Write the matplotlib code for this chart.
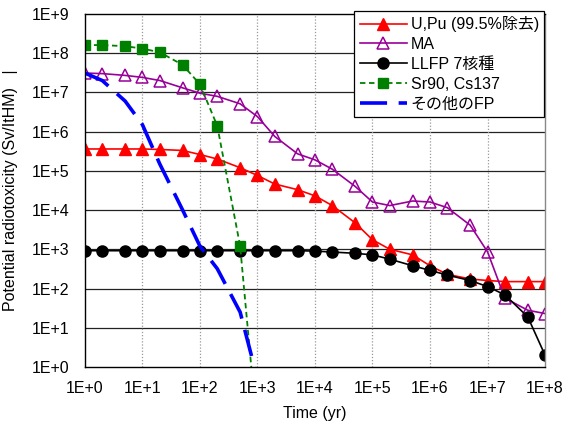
import numpy as np
import matplotlib
matplotlib.use('Agg')
import matplotlib.pyplot as plt

plt.rcParams['font.family'] = ['Liberation Sans', 'Noto Sans CJK JP']

# time points (yr)
years = [1, 2, 5, 1e1, 2e1, 5e1, 1e2, 2e2, 5e2, 1e3, 2e3, 5e3, 1e4, 2e4, 5e4,
         1e5, 2e5, 5e5, 1e6, 2e6, 5e6, 1e7, 2e7, 5e7, 1e8]

u_pu = [3.6e5, 3.6e5, 3.6e5, 3.6e5, 3.5e5, 3.3e5, 2.6e5, 2.0e5, 1.2e5, 7.6e4,
        4.6e4, 3.3e4, 2.3e4, 1.3e4, 4.7e3, 1.75e3, 1.0e3, 7.2e2, 3.8e2, 2.3e2,
        1.75e2, 1.6e2, 1.5e2, 1.5e2, 1.5e2]
ma = [3.1e7, 3.0e7, 2.7e7, 2.4e7, 2.0e7, 1.3e7, 9.5e6, 7.9e6, 5.1e6, 2.4e6,
      7.5e5, 2.7e5, 1.9e5, 1.1e5, 4.0e4, 1.6e4, 1.3e4, 1.7e4, 1.6e4, 1.15e4,
      4.1e3, 8.6e2, 57, 28, 23]
llfp = [9.2e2, 9.2e2, 9.2e2, 9.2e2, 9.2e2, 9.2e2, 9.2e2, 9.2e2, 9.2e2, 9.2e2,
        9.2e2, 9.2e2, 9.0e2, 8.5e2, 7.9e2, 7.2e2, 5.6e2, 3.8e2, 2.9e2, 2.2e2,
        1.6e2, 1.12e2, 69, 19, 2.0]

years_short = [1, 2, 5, 1e1, 2e1, 5e1, 1e2, 2e2, 5e2, 1e3]
sr_cs = [1.6e8, 1.6e8, 1.5e8, 1.3e8, 1.05e8, 5.0e7, 1.6e7, 1.4e6, 1.2e3, 0.02]
other_fp = [3.1e7, 2.0e7, 6.0e6, 1.5e6, 1.5e5, 1.0e4, 1.2e3, 3.2e2, 25, 0.5]

labels = ['U,Pu (99.5%除去)', 'MA', 'LLFP 7核種', 'Sr90, Cs137', 'その他のFP']

FS = 11.5

fig = plt.figure(figsize=(5.66, 4.26), dpi=100)
ax = fig.add_axes([0.150, 0.1385, 0.813, 0.829])

ax.plot(years, u_pu, color='#FF0000', lw=1.2, marker='^', ms=8,
        label=labels[0])
ax.plot(years, ma, color='#990099', lw=1.2, marker='^', ms=8,
        mfc='none', mec='#990099', mew=1.1, label=labels[1])
ax.plot(years, llfp, color='black', lw=1.2, marker='o', ms=8,
        label=labels[2])
ax.plot(years_short, sr_cs, color='#008000', lw=1.3, ls=(0, (3, 2)),
        marker='s', ms=6.5, label=labels[3])
ax.plot(years_short, other_fp, color='#0000FF', lw=2.6, dashes=(7.5, 3.2),
        label=labels[4])

ax.set_xscale('log')
ax.set_yscale('log')
ax.set_xlim(1, 1e8)
ax.set_ylim(1, 1e9)

xt = [10.0 ** i for i in range(9)]
yt = [10.0 ** i for i in range(10)]
ax.set_xticks(xt)
ax.set_xticklabels(['1E+%d' % i for i in range(9)])
ax.set_yticks(yt)
ax.set_yticklabels(['1E+%d' % i for i in range(10)])
ax.minorticks_off()
ax.tick_params(labelsize=FS, length=0)
ax.tick_params(axis='x', pad=10)
ax.tick_params(axis='y', pad=11)

for v in yt[1:-1]:
    ax.axhline(v, color='#222222', lw=0.9, zorder=0.5)
for v in xt[1:-1]:
    ax.axvline(v, color='#999999', lw=0.9, ls=(0, (1, 1.5)), zorder=0.5)

for s in ax.spines.values():
    s.set_color('black')
    s.set_linewidth(1.0)
ax.spines['right'].set_color('#888888')

ax.set_xlabel('Time (yr)', fontsize=FS, labelpad=7)
ax.set_ylabel('Potential radiotoxicity (Sv/ItHM)   |', fontsize=FS,
              labelpad=10)

leg = ax.legend(loc='upper right', bbox_to_anchor=(0.962, 0.975),
                bbox_transform=fig.transFigure, fontsize=FS,
                handlelength=3.0, handletextpad=0.2, labelspacing=0.3,
                borderpad=0.35, fancybox=False, framealpha=1,
                edgecolor='black', borderaxespad=0)
leg.get_frame().set_linewidth(0.9)

fig.savefig('out.png', dpi=100)
